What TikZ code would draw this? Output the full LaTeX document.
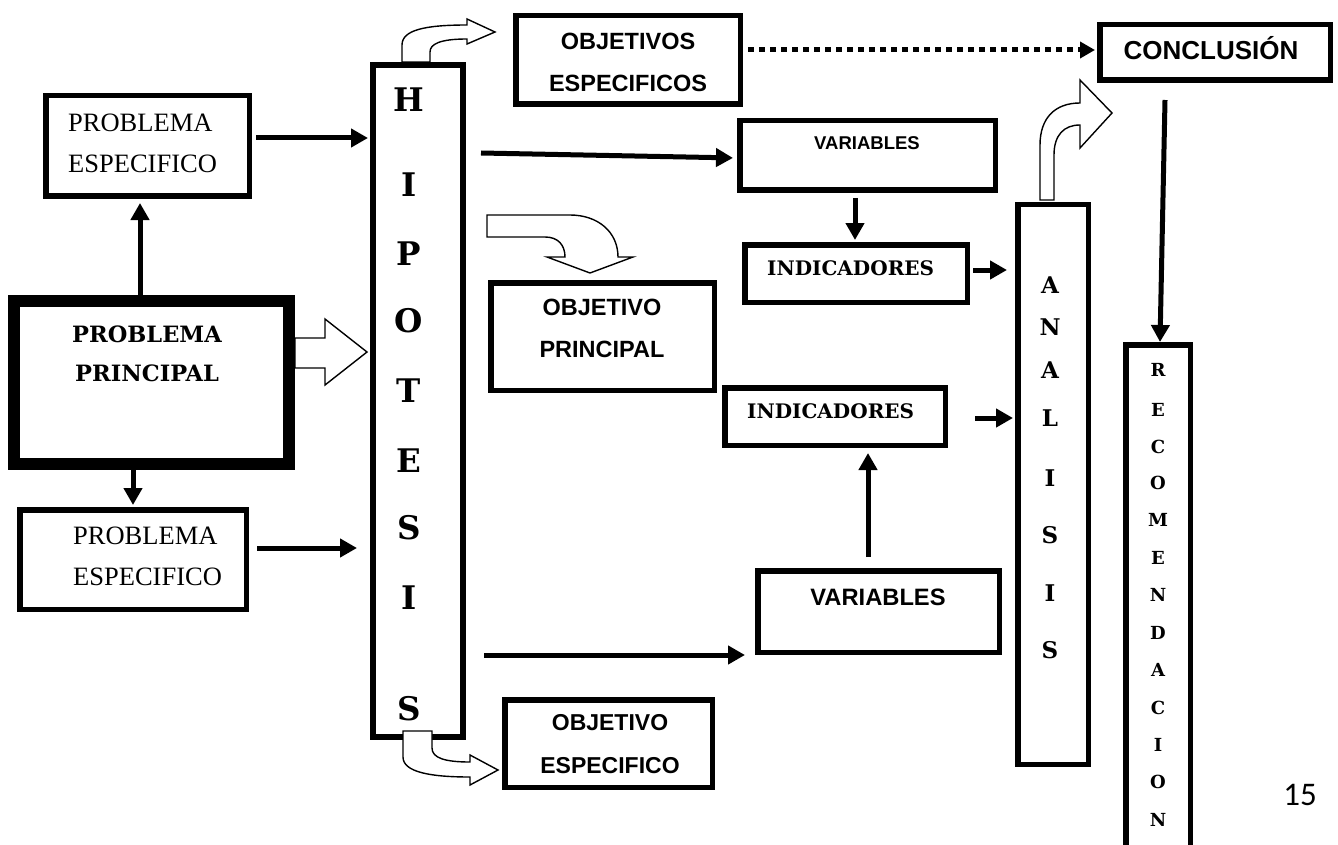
\documentclass[tikz,border=0pt]{standalone}
\usepackage{fontspec}
\setmainfont{Liberation Serif}
\newfontfamily\slabfont{DejaVu Serif}
\newfontfamily\arialfont{Liberation Sans}
\newfontfamily\calibfont{Carlito}
\usetikzlibrary{arrows.meta,calc}
\begin{document}
\begin{tikzpicture}[x=1pt,y=-1pt,
  box/.style={draw, line width=5.5pt, inner sep=0pt},
  txt/.style={inner sep=0pt, anchor=base},
  arr/.style={line width=5pt, -{Triangle[length=17pt,width=18pt]}},
  hollow/.style={draw, fill=white, line width=1.4pt, line join=miter},
  fser/.style={font=\rmfamily\fontsize{26.5pt}{30pt}\selectfont},
  fslab/.style={font=\slabfont\bfseries\fontsize{#1}{#1}\selectfont},
  fsans/.style={font=\arialfont\bfseries\fontsize{#1}{#1}\selectfont}]
\clip (0,0) rectangle (1338,845);
\fill[white] (0,0) rectangle (1338,845);

% boxes
\node[box, minimum width=203.5pt, minimum height=100.5pt] (pe1) at (147.5,146) {};
\node[box, line width=12pt, minimum width=275pt, minimum height=163pt] (pp) at (151.5,382.5) {};
\node[box, minimum width=226.5pt, minimum height=99.5pt] (pe2) at (133,559.5) {};
\node[box, line width=6pt, minimum width=90pt, minimum height=672pt] (hip) at (418,401) {};
\node[box, minimum width=224.5pt, minimum height=88.5pt] (objs) at (628,60) {};
\node[box, minimum width=255.5pt, minimum height=69.5pt] (var1) at (867.5,155.5) {};
\node[box, minimum width=222.5pt, minimum height=57.5pt] (ind1) at (856,273.5) {};
\node[box, minimum width=223.5pt, minimum height=107.5pt] (objp) at (602.5,336.5) {};
\node[box, minimum width=220.5pt, minimum height=57.5pt] (ind2) at (835,416.5) {};
\node[box, minimum width=241.5pt, minimum height=81.5pt] (var2) at (878.5,611.5) {};
\node[box, minimum width=207.5pt, minimum height=87.5pt] (objesp) at (608.5,743.5) {};
\node[box, minimum width=70.5pt, minimum height=559.5pt] (ana) at (1053,484.5) {};
\node[box, minimum width=230.5pt, minimum height=55.5pt] (conc) at (1215,52.5) {};
\node[box, minimum width=64.5pt, minimum height=552.5pt] (rec) at (1158,621) {};

% texts
\node[txt, fser, anchor=base west] (pe1a) at (68,132) {PROBLEMA};
\node[txt, fser, anchor=base west] (pe1b) at (68,173) {ESPECIFICO};
\node[txt, fser, anchor=base west] (pe2a) at (73,544) {PROBLEMA};
\node[txt, fser, anchor=base west] (pe2b) at (73,585) {ESPECIFICO};
\node[txt, fslab=22.5pt] (ppa) at (147,342) {PROBLEMA};
\node[txt, fslab=22.5pt] (ppb) at (147,381) {PRINCIPAL};
\node[txt, fsans=23.5pt] (objsa) at (628,50) {OBJETIVOS};
\node[txt, fsans=23.5pt] (objsb) at (628,92) {ESPECIFICOS};
\node[txt, fsans=23.5pt] (objpa) at (602,315) {OBJETIVO};
\node[txt, fsans=23.5pt] (objpb) at (602,357) {PRINCIPAL};
\node[txt, fsans=23pt] (objea) at (610,730) {OBJETIVO};
\node[txt, fsans=23pt] (objeb) at (610,773) {ESPECIFICO};
\node[txt, fsans=26pt] (conct) at (1211,60) {CONCLUSIÓN};
\node[txt, fsans=18.5pt] (var1t) at (867,150) {VARIABLES};
\node[txt, fsans=23.7pt] (var2t) at (878,605) {VARIABLES};
\node[txt, fslab=20pt, anchor=base west] (ind1t) at (767,275) {INDICADORES};
\node[txt, fslab=20pt, anchor=base west] (ind2t) at (747,418) {INDICADORES};

% vertical words
\foreach \l/\y [count=\i] in {H/100,I/185,P/254,O/321,T/391,E/461,S/528,I/598,S/709}
  \node[inner sep=0pt, fslab=32.5pt] (hip\i) at (409,\y) {\l};
\foreach \l/\y [count=\i] in {A/285,N/327,A/370,L/418,I/478,S/535,I/593,S/650}
  \node[inner sep=0pt, fslab=23pt] (ana\i) at (1050,\y) {\l};
\foreach \l/\y [count=\i] in {R/370,E/410,C/447,O/483,M/520,E/558,N/595,D/633,A/670,C/708,I/745,O/782,N/820}
  \node[inner sep=0pt, fslab=18pt] (rec\i) at (1158,\y) {\l};

% solid connectors
\draw[arr, shorten >=2pt] ([xshift=4pt,yshift=8pt]pe1.east) coordinate (a1) -- (a1 -| hip.west);
\draw[arr, shorten >=4pt] ([xshift=-11.5pt]pp.north) coordinate (a2) -- (a2 |- pe1.south);
\draw[arr, shorten >=2pt] ([xshift=-18.5pt]pp.south) coordinate (a3) -- (a3 |- pe2.north);
\draw[arr, shorten >=13pt] ([xshift=8pt,yshift=11.5pt]pe2.east) coordinate (a4) -- (a4 -| hip.west);
\draw[arr, shorten >=4pt] ([xshift=15pt,yshift=248pt]hip.east) -- ([yshift=-2.5pt]var1.west);
\draw[arr, shorten <=5pt, shorten >=2pt] ([xshift=-12.5pt]var1.south) coordinate (a6) -- (a6 |- ind1.north);
\draw[arr, shorten >=8pt] ([xshift=3pt,yshift=3.5pt]ind1.east) coordinate (a7) -- (a7 -| ana.west);
\draw[arr, shorten >=2pt] ([xshift=27pt,yshift=-1.5pt]ind2.east) coordinate (a8) -- (a8 -| ana.west);
\draw[arr, shorten >=5pt] ([xshift=-10.5pt,yshift=11pt]var2.north) coordinate (a9) -- (a9 |- ind2.south);
\draw[arr, shorten >=10pt] ([xshift=18pt,yshift=-254pt]hip.east) coordinate (a10) -- (a10 -| var2.west);
\draw[arr] ([xshift=-50pt,yshift=-17pt]conc.south) -- ([xshift=2pt]rec.north);
\draw[line width=5pt, dash pattern=on 6pt off 5pt, -{Triangle[length=15pt,width=16pt]}, shorten >=2pt]
  ([xshift=5pt,yshift=10pt]objs.east) coordinate (a12) -- (a12 -| conc.west);

% hollow arrows
\draw[hollow] (402,62) -- (402,45) .. controls (402,30) and (425,25) .. (467,25) -- (467,19) -- (495,32) -- (467,44) -- (467,39) .. controls (440,39) and (430,44) .. (430,52) -- (430,62) -- cycle;
\draw[hollow] (403,731) -- (403,757) .. controls (403,772) and (430,777) .. (470,777) -- (470,785) -- (498,770) -- (470,755) -- (470,762) .. controls (445,762) and (432,758) .. (432,748) -- (432,731) -- cycle;
\draw[hollow] (487,215) -- (570,215) .. controls (598,215) and (618,232) .. (618,257) -- (633,257) -- (590,273) -- (547,257) -- (565,257) .. controls (565,245) and (558,237) .. (545,237) -- (487,237) -- cycle;
\draw[hollow] (1040,200) -- (1040,145) .. controls (1040,118) and (1055,103) .. (1080,103) -- (1080,80) -- (1112,113) -- (1080,148) -- (1080,125) .. controls (1064,125) and (1054,135) .. (1054,155) -- (1054,200) -- cycle;
\draw[hollow] (295,338) -- (325,338) -- (325,319) -- (367,352) -- (325,385) -- (325,368) -- (295,368) -- cycle;

% page number
\node[inner sep=0pt, font=\calibfont\fontsize{33pt}{33pt}\selectfont] (pg) at (1300,795) {15};
\end{tikzpicture}
\end{document}
